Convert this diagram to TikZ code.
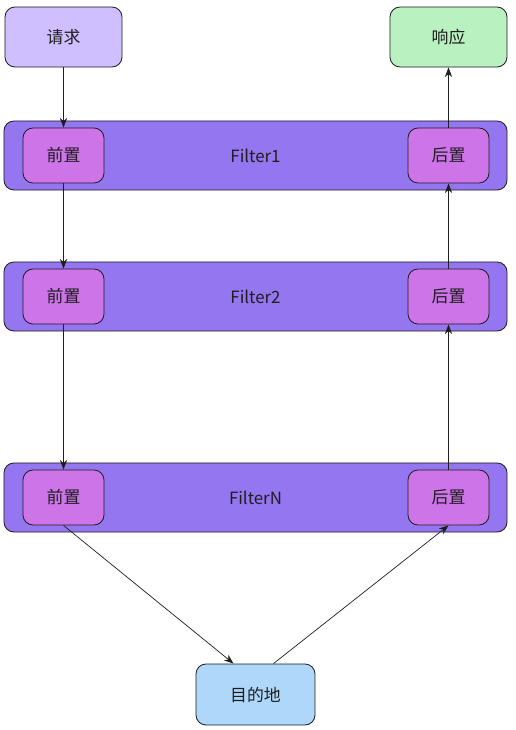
\documentclass[tikz,border=0pt]{standalone}
\usepackage{fontspec}
\setmainfont{Noto Sans CJK SC}
\usetikzlibrary{arrows.meta}
\definecolor{linecol}{HTML}{1E1E1E}
\definecolor{reqcol}{HTML}{D0BFFF}
\definecolor{respcol}{HTML}{B9F1C0}
\definecolor{bandcol}{HTML}{9476F0}
\definecolor{stagecol}{HTML}{CC74E8}
\definecolor{destcol}{HTML}{AED7FA}
\begin{document}
\begin{tikzpicture}[x=0.025cm, y=-0.025cm, >={Stealth[length=2.4mm,width=1.8mm]},
    box/.style={draw=linecol, line width=0.6pt, rounded corners=0.25cm, inner sep=0pt,
        font=\fontsize{12}{14}\selectfont, text=linecol},
    endbox/.style={box, minimum width=2.925cm, minimum height=1.5cm},
    band/.style={box, fill=bandcol, minimum width=12.575cm, minimum height=1.725cm},
    stage/.style={box, fill=stagecol, minimum width=2.025cm, minimum height=1.375cm},
    flow/.style={->, draw=linecol, line width=0.5pt}]
    \useasboundingbox (0,0) rectangle (515,730);

    % 1. 请求与响应
    \node[endbox, fill=reqcol] (req) at (63.5,37) {请求};
    \node[endbox, fill=respcol] (resp) at (448.5,37) {响应};

    % 2. 过滤器链 (每层含前置与后置)
    \foreach \y/\n/\t in {155.5/1/Filter1, 296.5/2/Filter2, 497.5/N/FilterN} {
        \node[band] (filt\n) at (255.5,\y) {\t};
        \node[stage] (pre\n) at (63.5,\y) {前置};
        \node[stage] (post\n) at (448.5,\y) {后置};
    }

    % 3. 目的地
    \node[endbox, fill=destcol, minimum width=2.975cm, minimum height=1.525cm] (dest) at (255.5,694.5) {目的地};

    % 4. 请求方向 (向下)
    \draw[flow] (req) -- (pre1);
    \draw[flow] (pre1) -- (pre2);
    \draw[flow] (pre2) -- (preN);
    \draw[flow] (preN.south) -- ([xshift=-0.55cm]dest.north);

    % 5. 响应方向 (向上)
    \draw[flow] ([xshift=0.45cm]dest.north) -- (postN.south);
    \draw[flow] (postN) -- (post2);
    \draw[flow] (post2) -- (post1);
    \draw[flow] (post1) -- (resp);
\end{tikzpicture}
\end{document}
